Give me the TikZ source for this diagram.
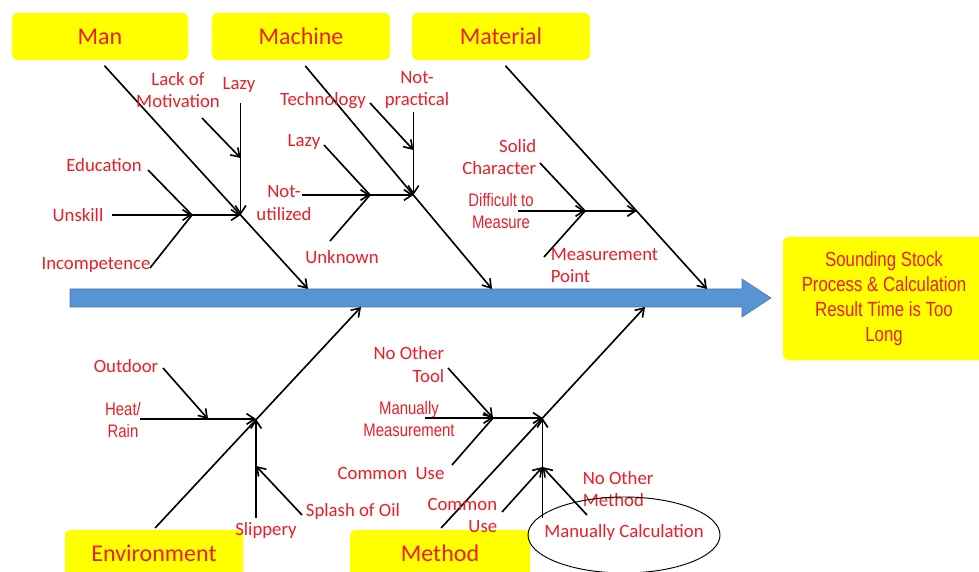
\documentclass[tikz,border=0pt]{standalone}
\usepackage{fontspec}
\setmainfont{Carlito}
\newfontfamily\narrowfont[FakeStretch=0.82]{Liberation Sans}
\usetikzlibrary{arrows.meta}
\definecolor{fishred}{RGB}{235,30,40}
\definecolor{fishyellow}{RGB}{255,255,0}
\definecolor{spineblue}{RGB}{86,148,212}
\definecolor{spineedge}{RGB}{70,120,175}
\tikzset{
  catbox/.style={fill=fishyellow,rounded corners=5pt,minimum height=1.41cm,text=fishred,font=\fontsize{20.5}{24}\selectfont},
  cause/.style={text=fishred,font=\fontsize{16}{19.5}\selectfont,inner sep=0pt,align=center},
  narrow/.style={cause,font=\narrowfont\fontsize{15.5}{19}\selectfont}
}
\begin{document}
\begin{tikzpicture}[x=0.03cm,y=-0.03cm,line width=1.4pt,>={Straight Barb[length=2.4mm,width=3.2mm]}]
\clip (0,0) rectangle (979,572);
\fill[white] (0,0) rectangle (979,572);
\node[catbox,minimum width=5.28cm] (man) at (100,36.5) {Man};
\node[catbox,minimum width=5.34cm] (machine) at (301,36.5) {Machine};
\node[catbox,minimum width=5.34cm] (material) at (501,36.5) {Material};
\node[catbox,minimum width=5.34cm] (environment) at (154,553.5) {Environment};
\node[catbox,minimum width=5.4cm] (method) at (440,553.5) {Method};
\node[catbox,minimum width=6.06cm,minimum height=3.69cm,align=center,font=\narrowfont\fontsize{17.5}{21.5}\selectfont] (effect) at (884,298.5) {Sounding Stock\\Process \& Calculation\\Result Time is Too\\Long};
\fill[spineblue,draw=spineedge,line width=0.5pt] (70,289)--(742,289)--(742,279)--(771,298)--(742,317)--(742,307)--(70,307)--cycle;
\coordinate (manT) at (308,289);
\coordinate (machineT) at (492,289);
\coordinate (materialT) at (707,289);
\coordinate (environmentT) at (361,307);
\coordinate (methodT) at (645,307);
\draw[->,shorten <=2mm] (man.south)--(manT);
\draw[->,shorten <=2mm] (machine.south)--(machineT);
\draw[->,shorten <=2mm] (material.south)--(materialT);
\draw[->,shorten <=0.5mm] (environment.north)--(environmentT);
\draw[->,shorten <=0.5mm] (method.north)--(methodT);
\node[cause] (motiv) at (178,90) {Lack of\\Motivation};
\node[cause] (lazyA) at (239,85) {Lazy};
\node[cause] (edu) at (104,165) {Education};
\node[cause] (unskill) at (78,215) {Unskill};
\node[cause] (incomp) at (96,265) {Incompetence};
\node[cause] (tech) at (323,101) {Technology};
\node[cause] (notprac) at (417,90) {Not-\\practical};
\node[cause] (lazyB) at (304,142) {Lazy};
\node[cause] (notutil) at (284,203) {Not-\\utilized};
\node[cause] (unknown) at (342,257) {Unknown};
\node[cause,align=right,anchor=east] (solid) at (537,157) {Solid\\Character};
\node[narrow] (difficult) at (501,211) {Difficult to\\Measure};
\node[cause,align=left,anchor=west] (mpoint) at (550,265.5) {Measurement\\Point};
\node[cause] (outdoor) at (126,366) {Outdoor};
\node[narrow] (heat) at (123,420) {Heat/\\Rain};
\node[cause] (slippery) at (266,531) {Slippery};
\node[cause] (splash) at (353,512) {Splash of Oil};
\node[cause,align=right,anchor=east] (notool) at (445,364.5) {No Other\\Tool};
\node[narrow] (manmeas) at (409,419) {Manually\\Measurement};
\node[cause] (common1) at (391,473) {Common\ \ Use};
\node[cause,align=right,anchor=east] (common2) at (498,515.5) {Common\\Use};
\node[cause,align=left,anchor=west] (nomethod) at (582,489) {No Other\\Method};
\node[cause] (calc) at (624,533) {Manually Calculation};
\draw[line width=0.8pt] (624,535) ellipse [x radius=2.88cm,y radius=1.14cm];
\coordinate (manS) at (192,215); \coordinate (manJ) at (240.6,215); \coordinate (manV) at (240.6,158);
\coordinate (eduE) at (148,170); \coordinate (unskillE) at (112,215); \coordinate (incompE) at (150,268);
\coordinate (motivE) at (202,118); \coordinate (lazyAE) at (240.6,103);
\draw[->] (unskillE)--(manS);
\draw (eduE)--(manS);
\draw (incompE)--(manS);
\draw[->] (manS)--(manJ);
\draw[->] (lazyAE)--(manJ);
\draw[->] (motivE)--(manV);
\coordinate (machineS) at (370,195); \coordinate (machineJ) at (413.4,195); \coordinate (machineV) at (413.4,150);
\coordinate (notutilE) at (302,195); \coordinate (lazyBE) at (324,145); \coordinate (unknownE) at (330,241);
\coordinate (techE) at (370,103); \coordinate (notpracE) at (413.4,112);
\draw[->] (notutilE)--(machineS);
\draw (lazyBE)--(machineS);
\draw (unknownE)--(machineS);
\draw[->] (machineS)--(machineJ);
\draw[->] (notpracE)--(machineJ);
\draw[->] (techE)--(machineV);
\coordinate (materialS) at (585,211); \coordinate (materialJ) at (636.7,211);
\coordinate (diffE) at (518,211); \coordinate (solidE) at (540,163); \coordinate (mpointE) at (544,257);
\draw[->] (diffE)--(materialS);
\draw (solidE)--(materialS);
\draw (mpointE)--(materialS);
\draw[->] (materialS)--(materialJ);
\coordinate (environmentJ) at (256,419); \coordinate (environmentV) at (208,419); \coordinate (environmentU) at (256,466);
\coordinate (heatE) at (140,419); \coordinate (outdoorE) at (163,368); \coordinate (slipE) at (256,518); \coordinate (splashE) at (302,515);
\draw[->] (heatE)--(environmentJ);
\draw[->] (outdoorE)--(environmentV);
\draw[->] (slipE)--(environmentJ);
\draw[->] (splashE)--(environmentU);
\coordinate (methodS) at (493,418); \coordinate (methodJ) at (542.5,418); \coordinate (methodU) at (542.5,467);
\coordinate (manmeasE) at (425,418); \coordinate (notoolE) at (448,368); \coordinate (common1E) at (452,465);
\coordinate (calcE) at (542.5,518); \coordinate (common2E) at (502,512); \coordinate (nomethodE) at (587,515);
\draw[->] (manmeasE)--(methodS);
\draw[->] (notoolE)--(methodS);
\draw (common1E)--(methodS);
\draw[->] (methodS)--(methodJ);
\draw[->] (calcE)--(methodJ);
\draw[->] (common2E)--(methodU);
\draw[->] (nomethodE)--(methodU);
\end{tikzpicture}
\end{document}
